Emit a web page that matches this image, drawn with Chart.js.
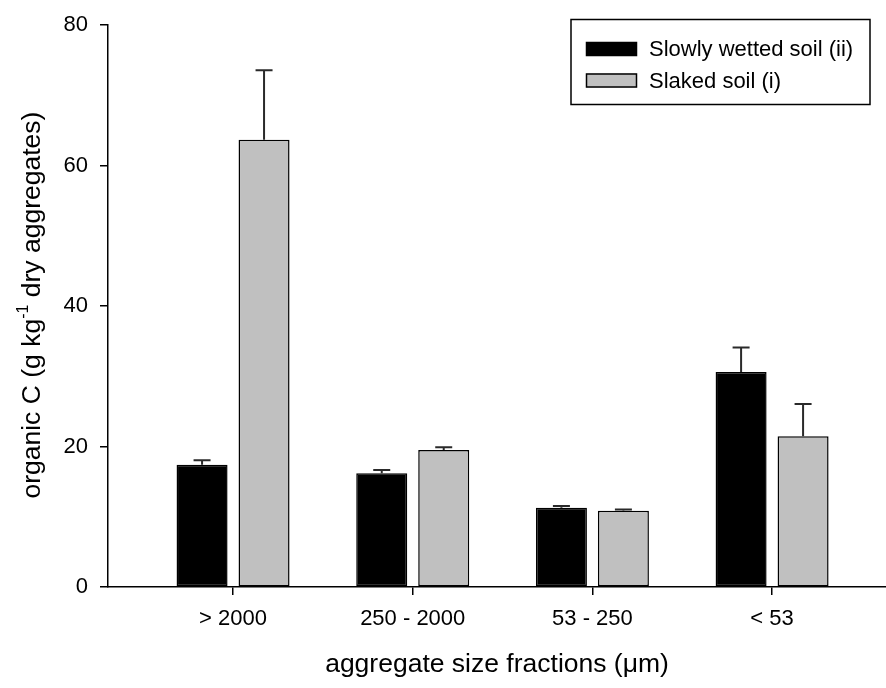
<!DOCTYPE html>
<html>
<head>
<meta charset="utf-8">
<script src="https://cdn.jsdelivr.net/npm/chart.js@4"></script>
<style>
    html, body { margin: 0; padding: 0; background: #fff; }
    #wrap { width: 886px; height: 688px; position: relative; }
</style>
</head>
<body>
<div id="wrap"><canvas id="carbonChart"></canvas></div>
<script>
// aggregate size fractions (x categories)
const categories = ['> 2000', '250 - 2000', '53 - 250', '< 53'];

// organic C, g kg-1 dry aggregates
const slowlyWetted = [17.4, 16.2, 11.3, 30.6];
const slowlyWettedErr = [0.65, 0.45, 0.25, 3.5];
const slaked = [63.7, 19.5, 10.85, 21.45];
const slakedErr = [9.9, 0.4, 0.2, 4.6];

const yTicks = [0, 20, 40, 60, 80];

const FONT = "'Liberation Sans', Arial, sans-serif";

// 표준오차 막대 (위쪽만)
const errorBarPlugin = {
    id: 'errorBars',
    afterDatasetsDraw(chart) {
        const ctx = chart.ctx;
        const yScale = chart.scales.y;
        ctx.save();
        ctx.strokeStyle = '#2a2a2a';
        ctx.lineWidth = 2;
        chart.data.datasets.forEach((ds, di) => {
            const meta = chart.getDatasetMeta(di);
            meta.data.forEach((bar, i) => {
                const err = ds.errors[i];
                const yTop = bar.y;
                const yErr = yScale.getPixelForValue(ds.data[i].y + err);
                ctx.beginPath();
                ctx.moveTo(bar.x, yTop);
                ctx.lineTo(bar.x, yErr);
                ctx.moveTo(bar.x - 8.5, yErr);
                ctx.lineTo(bar.x + 8.5, yErr);
                ctx.stroke();
            });
        });
        ctx.restore();
    }
};

// y축 제목 (윗첨자 포함)
const yTitlePlugin = {
    id: 'yTitle',
    afterDraw(chart) {
        const ctx = chart.ctx;
        const area = chart.chartArea;
        const cy = (area.top + area.bottom) / 2 - 1;
        const part1 = 'organic C (g kg';
        const sup = '-1';
        const part3 = ' dry aggregates)';
        ctx.save();
        ctx.translate(33, cy);
        ctx.rotate(-Math.PI / 2);
        ctx.fillStyle = '#000';
        ctx.textBaseline = 'middle';
        ctx.textAlign = 'left';
        ctx.font = '26.5px ' + FONT;
        const w1 = ctx.measureText(part1).width;
        const w3 = ctx.measureText(part3).width;
        ctx.font = '16px ' + FONT;
        const ws = ctx.measureText(sup).width;
        let x = -(w1 + ws + w3) / 2;
        ctx.font = '26.5px ' + FONT;
        ctx.fillText(part1, x, 0);
        ctx.font = '16px ' + FONT;
        ctx.fillText(sup, x + w1, -9);
        ctx.font = '26.5px ' + FONT;
        ctx.fillText(part3, x + w1 + ws, 0);
        ctx.restore();
    }
};

// 테두리 있는 범례
const boxLegendPlugin = {
    id: 'boxLegend',
    afterDraw(chart) {
        const ctx = chart.ctx;
        ctx.save();
        ctx.strokeStyle = '#000';
        ctx.lineWidth = 1.5;
        ctx.strokeRect(571, 19.5, 299, 85);
        ctx.font = '22px ' + FONT;
        ctx.textBaseline = 'middle';
        ctx.fillStyle = '#000';
        chart.data.datasets.forEach((ds, i) => {
            const y = 42 + i * 31.5;
            ctx.fillStyle = ds.backgroundColor;
            ctx.fillRect(586, y, 51, 14);
            ctx.lineWidth = 1.5;
            ctx.strokeRect(586.5, y + 0.5, 50, 13);
            ctx.fillStyle = '#000';
            ctx.fillText(ds.label, 649, y + 8);
        });
        ctx.restore();
    }
};

function initCarbonChart() {
    const ctx = document.getElementById('carbonChart');

    const config = {
        type: 'bar',
        data: {
            datasets: [{
                label: 'Slowly wetted soil (ii)',
                data: slowlyWetted.map((v, i) => ({ x: i, y: v })),
                errors: slowlyWettedErr,
                backgroundColor: '#000000',
                borderColor: '#000000',
                borderWidth: 1.5,
                borderSkipped: false
            }, {
                label: 'Slaked soil (i)',
                data: slaked.map((v, i) => ({ x: i, y: v })),
                errors: slakedErr,
                backgroundColor: '#c0c0c0',
                borderColor: '#000000',
                borderWidth: 1.5,
                borderSkipped: false
            }]
        },
        options: {
            responsive: true,
            maintainAspectRatio: false,
            animation: false,
            categoryPercentage: 0.69,
            barPercentage: 0.823,
            layout: {
                padding: { top: 19, right: 0, left: 0, bottom: 0 }
            },
            plugins: {
                legend: { display: false },
                tooltip: { enabled: false }
            },
            scales: {
                x: {
                    type: 'linear',
                    min: -0.696,
                    max: 3.634,
                    offset: false,
                    afterBuildTicks: (axis) => {
                        axis.ticks = categories.map((_, i) => ({ value: i }));
                    },
                    afterFit: (axis) => { axis.height = 101; },
                    grid: {
                        display: true,
                        offset: false,
                        drawOnChartArea: false,
                        drawTicks: true,
                        tickLength: 8,
                        color: '#000',
                        lineWidth: 1.5
                    },
                    border: { display: true, color: '#000', width: 1.5 },
                    ticks: {
                        autoSkip: false,
                        maxRotation: 0,
                        padding: 11,
                        color: '#000',
                        font: { size: 22, family: FONT },
                        callback: (value) => categories[value]
                    },
                    title: {
                        display: true,
                        text: 'aggregate size fractions (\u03bcm)',
                        color: '#000',
                        font: { size: 26.5, family: FONT },
                        padding: { top: 0, bottom: 7 }
                    }
                },
                y: {
                    min: 0,
                    max: 80,
                    afterBuildTicks: (axis) => {
                        axis.ticks = yTicks.map(v => ({ value: v }));
                    },
                    afterFit: (axis) => { axis.width = 108; },
                    grid: {
                        display: true,
                        drawOnChartArea: false,
                        drawTicks: true,
                        tickLength: 8,
                        color: '#000',
                        lineWidth: 1.5
                    },
                    border: { display: true, color: '#000', width: 1.5 },
                    ticks: {
                        padding: 12,
                        color: '#000',
                        font: { size: 22, family: FONT }
                    }
                }
            }
        },
        plugins: [errorBarPlugin, yTitlePlugin, boxLegendPlugin]
    };

    return new Chart(ctx, config);
}

initCarbonChart();
</script>
</body>
</html>
